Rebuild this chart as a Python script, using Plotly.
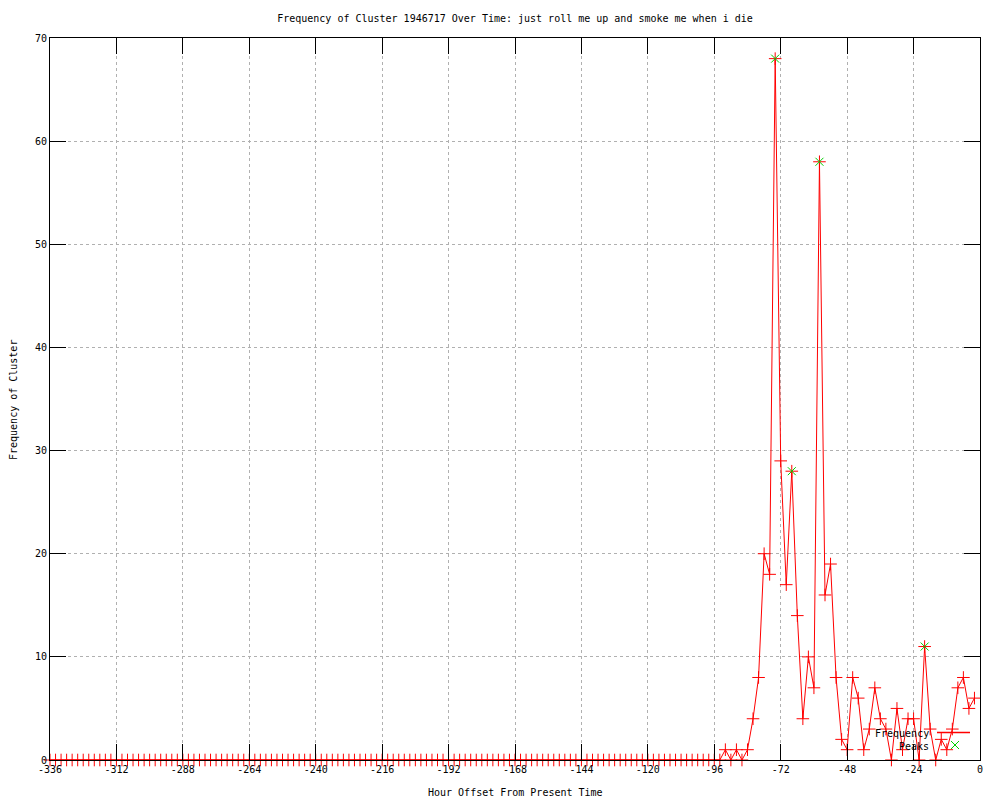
import plotly.graph_objects as go

# Hours: -336 .. -2 every 2 hours
hours = list(range(-336, 0, 2))

# Non-zero part of the series (from -94 to -2), earlier values are all zero
recent_hours = list(range(-94, 0, 2))
recent_values = [0, 1, 0, 1, 0, 1, 4, 8, 20, 18,   # -94 .. -76
                 68, 29, 17, 28, 14, 4, 10, 7, 58, 16,  # -74 .. -56
                 19, 8, 2, 1, 8, 6, 1, 3, 7, 4,       # -54 .. -36
                 3, 0, 5, 1, 4, 4, 0, 11, 3, 0,       # -34 .. -16
                 2, 1, 3, 7, 8, 5, 6]                 # -14 .. -2

frequency = [0] * (len(hours) - len(recent_hours)) + recent_values

peak_hours = [-74, -68, -58, -20]
peak_values = [68, 28, 58, 11]

x_ticks = list(range(-336, 1, 24))
y_ticks = list(range(0, 71, 10))

FONT = "DejaVu Sans Mono"
RED = "#ff0000"
GREEN = "#00d000"

fig = go.Figure()
fig.add_trace(go.Scatter(
    x=hours, y=frequency, mode="lines+markers", name="Frequency",
    line=dict(color=RED, width=1),
    marker=dict(symbol="cross-thin-open", size=9, line=dict(color=RED, width=1), color=RED),
    cliponaxis=False, showlegend=False,
))
fig.add_trace(go.Scatter(
    x=peak_hours, y=peak_values, mode="markers", name="Peaks",
    marker=dict(symbol="x-thin-open", size=8, line=dict(color=GREEN, width=1), color=GREEN),
    cliponaxis=False, showlegend=False,
))

L, R, T, B = 50, 20, 38, 40
W, H = 1000, 800
pw, ph = W - L - R, H - T - B

def px(xp):
    return (xp - L) / pw

def py(yp):
    return (H - B - yp) / ph

axis_common = dict(
    showline=True, linecolor="black", linewidth=1, mirror="ticks",
    ticks="inside", ticklen=16, tickwidth=1, tickcolor="black",
    showgrid=True, gridcolor="#b0b0b0", griddash="dot", gridwidth=1,
    zeroline=False, tickfont=dict(family=FONT, size=10, color="black"),
    layer="above traces",
)

fig.update_xaxes(range=[-336, 0], tickmode="array", tickvals=x_ticks,
                 ticktext=[str(v) for v in x_ticks], **axis_common)
fig.update_yaxes(range=[0, 70], tickmode="array", tickvals=y_ticks,
                 ticktext=[str(v) for v in y_ticks], **axis_common)

annotations = [
    dict(text="Hour Offset From Present Time", x=px(515), y=py(793),
         xref="paper", yref="paper", showarrow=False, xanchor="center", yanchor="middle",
         font=dict(family=FONT, size=10, color="black")),
    dict(text="Frequency of Cluster", x=px(13), y=py(400),
         xref="paper", yref="paper", showarrow=False, textangle=-90,
         xanchor="center", yanchor="middle",
         font=dict(family=FONT, size=10, color="black")),
    dict(text="Frequency", x=px(931), y=py(733), xref="paper", yref="paper",
         showarrow=False, xanchor="right", yanchor="middle",
         font=dict(family=FONT, size=10, color="black")),
    dict(text="Peaks", x=px(931), y=py(746), xref="paper", yref="paper",
         showarrow=False, xanchor="right", yanchor="middle",
         font=dict(family=FONT, size=10, color="black")),
]

shapes = [
    dict(type="line", xref="paper", yref="paper", x0=px(937), x1=px(970),
         y0=py(732.5), y1=py(732.5), line=dict(color=RED, width=1.5)),
    dict(type="line", xref="paper", yref="paper", x0=px(951), x1=px(959),
         y0=py(741), y1=py(749), line=dict(color=GREEN, width=1)),
    dict(type="line", xref="paper", yref="paper", x0=px(951), x1=px(959),
         y0=py(749), y1=py(741), line=dict(color=GREEN, width=1)),
]

fig.update_layout(
    width=W, height=H,
    margin=dict(l=L, r=R, t=T, b=B, autoexpand=False),
    paper_bgcolor="white", plot_bgcolor="white",
    title=dict(text="Frequency of Cluster 1946717 Over Time: just roll me up and smoke me when i die",
               x=515 / W, xanchor="center", y=1 - 18 / H, yanchor="middle",
               font=dict(family=FONT, size=10, color="black")),
    annotations=annotations, shapes=shapes,
    showlegend=False,
)

fig.write_html("out.html", config={"displayModeBar": False},
               post_script="document.body.style.margin='0';")
